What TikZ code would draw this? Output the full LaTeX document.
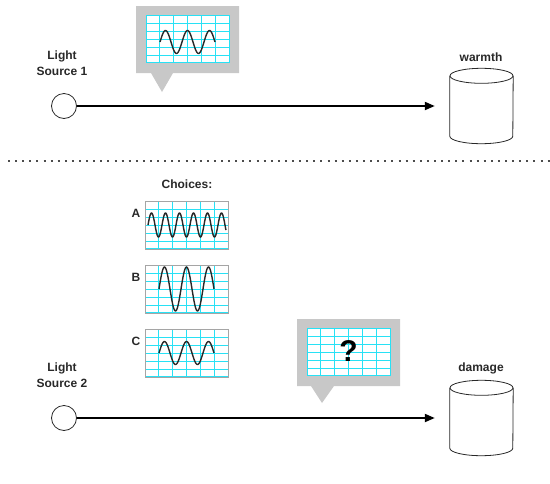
\documentclass[tikz,border=0pt]{standalone}
\usepackage{fontspec}
\setmainfont{Liberation Sans}
\usetikzlibrary{arrows.meta}

\definecolor{bubblegray}{RGB}{200,200,200}
\definecolor{gridcyan}{RGB}{40,225,245}
\definecolor{inkgray}{RGB}{40,40,40}
\definecolor{framegray}{RGB}{165,165,165}

% grid of an 83x48 screen, upper left corner at (#1,#2)
\newcommand{\drawgrid}[2]{%
  \foreach \i in {0,...,6} \draw[gridline] ({#1+\i*83/6},#2) -- ({#1+\i*83/6},#2+48);
  \foreach \j in {0,...,6} \draw[gridline] (#1,{#2+0.5+\j*7.9}) -- (#1+83,{#2+0.5+\j*7.9});
}

\tikzset{
  txt/.style={font=\bfseries\fontsize{12}{16}\selectfont, text=inkgray, align=center, inner sep=0pt},
  gridline/.style={draw=gridcyan, line width=1pt},
  wave/.style={inkgray, line width=1.4pt},
  panel/.style={draw=framegray, line width=0.8pt, minimum width=83pt, minimum height=48pt, inner sep=0pt},
  source/.style={circle, draw=inkgray, line width=0.8pt, minimum size=25pt, inner sep=0pt},
  jarbox/.style={minimum width=63pt, minimum height=75pt, inner sep=0pt},
  jar/.style={inkgray, line width=0.8pt},
  beam/.style={black, line width=2pt, -{Triangle[length=10pt,width=8pt]}, shorten >=15pt},
  divider/.style={gray!60!black, line width=2pt, dash pattern=on 2pt off 5.1pt}
}

\begin{document}
\begin{tikzpicture}[x=1pt, y=-1pt]
\useasboundingbox (0,0) rectangle (550,483);

% top: light source 1
\node[txt] (lbl1) at (62,63) {Light\\Source 1};
\node[source] (src1) at (64,106) {};
\node[jarbox] (warmth) at (481.5,106) {};
\draw[jar] ([yshift=-7.5pt]warmth.north west) -- ([yshift=7.5pt]warmth.south west)
  arc[start angle=180, end angle=360, x radius=31.5pt, y radius=7.5pt] -- ([yshift=-7.5pt]warmth.north east);
\draw[jar] ([yshift=-7.5pt]warmth.north) ellipse [x radius=31.5pt, y radius=7.5pt];
\node[txt] (warmthlbl) at (481,57) {warmth};
\draw[beam] (src1) -- (warmth);

% bubble 1
\fill[bubblegray] (136,6) -- (239,6) -- (239,73) -- (173,73) -- (162,92) -- (151,73) -- (136,73) -- cycle;
\fill[white] (146,15) rectangle (229,63);
\drawgrid{146}{15}
\draw[wave] plot[domain=0:5, samples=90, smooth] ({160+11*\x},{42-11.5*sin(180*\x)});

\draw[divider] (8,161) -- (550,161);

% choices
\node[txt] (choices) at (187,184) {Choices:};
\drawgrid{145}{201}
\drawgrid{145}{265}
\drawgrid{145}{329}
\node[panel] (choiceA) at (186.5,225) {};
\node[panel] (choiceB) at (186.5,289) {};
\node[panel] (choiceC) at (186.5,353) {};
\node[txt] (lblA) at (136,213) {A};
\node[txt] (lblB) at (136,277) {B};
\node[txt] (lblC) at (136,341) {C};
\draw[wave] plot[domain=0:11.14, samples=200, smooth] ({148+7*\x},{225-12*sin(180*\x)});
\draw[wave] plot[domain=0:5, samples=90, smooth] ({159+11*\x},{289-22*sin(180*\x)});
\draw[wave] plot[domain=0:5, samples=90, smooth] ({159+11*\x},{353-11.5*sin(180*\x)});

% bottom: light source 2
\node[txt] (lbl2) at (62,375) {Light\\Source 2};
\node[source] (src2) at (64,418) {};
\node[jarbox] (damage) at (481.5,418) {};
\draw[jar] ([yshift=-7.5pt]damage.north west) -- ([yshift=7.5pt]damage.south west)
  arc[start angle=180, end angle=360, x radius=31.5pt, y radius=7.5pt] -- ([yshift=-7.5pt]damage.north east);
\draw[jar] ([yshift=-7.5pt]damage.north) ellipse [x radius=31.5pt, y radius=7.5pt];
\node[txt] (damagelbl) at (481,368) {damage};
\draw[beam] (src2) -- (damage);

% bubble 2
\fill[bubblegray] (297,319) -- (400,319) -- (400,386) -- (334,386) -- (322,403) -- (311,386) -- (297,386) -- cycle;
\fill[white] (307,328) rectangle (390,376);
\drawgrid{307}{328}
\node[font=\bfseries\fontsize{30}{30}\selectfont, text=black, inner sep=0pt] (query) at (348.5,351) {?};
\end{tikzpicture}
\end{document}
